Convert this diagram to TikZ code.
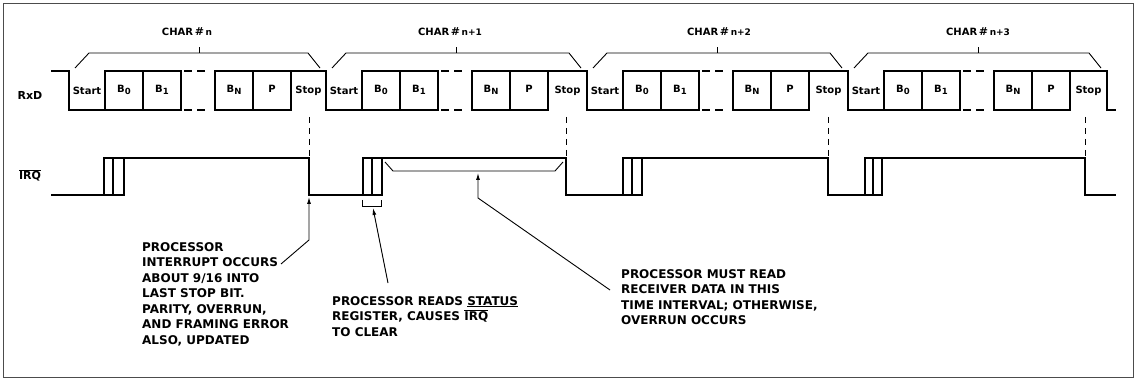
\documentclass[tikz,border=0pt]{standalone}
\usepackage{fontspec}
\setmainfont{DejaVu Sans}
\usetikzlibrary{arrows.meta}
\begin{document}
\begin{tikzpicture}[x=1pt,y=-1pt,
  wave/.style={line width=1.8pt, line cap=rect, line join=miter},
  bracestyle/.style={line width=0.9pt, line join=miter},
  guide/.style={line width=1pt, dash pattern=on 6pt off 5pt},
  arr/.style={line width=0.9pt, -{Latex[length=7pt,width=4pt]}},
  bitlbl/.style={font=\bfseries\fontsize{10}{10}\selectfont, inner sep=0pt},
  charlbl/.style={font=\bfseries\fontsize{10}{10}\selectfont, inner sep=0pt},
  siglbl/.style={font=\bfseries\fontsize{11}{11}\selectfont, inner sep=0pt},
  note/.style={font=\bfseries\fontsize{12}{15.5}\selectfont, align=left, inner sep=0pt, anchor=north west}]
\useasboundingbox (0,0) rectangle (1137,382);
\fill[white] (0,0) rectangle (1137,382);
\draw[gray!60!black, line width=0.8pt] (3,3) rectangle (1133,377);

% signal labels
\node[siglbl] (rxd) at (30,95) {RxD};
\node[siglbl] (irq) at (30,175) {$\overline{\hbox{IRQ}}$};

% RxD lead-in and tail
\draw[wave] (52,71) -- (69,71);
\draw[wave] (1107,71) -- (1107,110) -- (1115,110);

\foreach \s/\e/\cx/\lab [count=\i] in {69/326/187/n, 326/587/450/n+1, 587/848/719/n+2, 848/1107/978/n+3}{
  % start bit
  \draw[wave] (\s,71) -- (\s,110) -- ({\s+36},110);
  % data boxes
  \draw[wave] ({\s+36},71) rectangle ({\s+74},110);
  \draw[wave] ({\s+74},71) rectangle ({\s+112},110);
  \draw[wave] ({\s+146},71) rectangle ({\s+184},110);
  \draw[wave] ({\s+184},71) rectangle ({\s+222},110);
  % stop bit
  \draw[wave] ({\s+222},71) -- (\e,71);
  % ellipsis dashes
  \draw[wave] ({\s+116},71) -- ({\s+122},71) ({\s+129},71) -- ({\s+135},71);
  \draw[wave] ({\s+116},110) -- ({\s+122},110) ({\s+129},110) -- ({\s+135},110);
  % labels
  \node[bitlbl] (start\i) at ({\s+18},91) {Start};
  \node[bitlbl] (b0\i) at ({\s+55},90) {B\raisebox{-2.5pt}{\fontsize{8.5}{8.5}\selectfont 0}};
  \node[bitlbl] (b1\i) at ({\s+93},90) {B\raisebox{-2.5pt}{\fontsize{8.5}{8.5}\selectfont 1}};
  \node[bitlbl] (bn\i) at ({\s+165},90) {B\raisebox{-2.5pt}{\fontsize{8.5}{8.5}\selectfont N}};
  \node[bitlbl] (p\i) at ({\s+203},89) {P};
  \node[bitlbl] (stop\i) at ({(\s+222+\e)/2},91) {Stop};
  % brace
  \draw[bracestyle] ({\s+6},68) -- ({\s+20},53) -- ({\e-18},53) -- ({\e-6},68);
  \draw[bracestyle] ({\s+130},53) -- ({\s+130},47);
  \node[charlbl] (char\i) at (\cx,32) {CHAR\,{\fontsize{11}{11}\selectfont\#}\,{\fontsize{9}{9}\selectfont\lab}};
}

% guide lines from stop bit to IRQ
\foreach \x in {309,566,828,1085}{
  \draw[guide] (\x,117) -- (\x,157);
}

% IRQ waveform
\draw[wave] (52,195) -- (124,195);
\draw[wave] (104,195) -- (104,158) -- (309,158) -- (309,195) -- (382,195);
\draw[wave] (363,195) -- (363,158) -- (566,158) -- (566,195) -- (642,195);
\draw[wave] (623,195) -- (623,158) -- (828,158) -- (828,195) -- (882,195);
\draw[wave] (865,195) -- (865,158) -- (1085,158) -- (1085,195) -- (1115,195);
\foreach \x in {113,124,372,382,632,642,873,882}{
  \draw[wave] (\x,195) -- (\x,158);
}

% small bracket under IRQ clear region
\draw[bracestyle] (362,200) -- (362,206) -- (381,206) -- (381,200);
% long bracket for read interval
\draw[bracestyle] (385,162) -- (393,171) -- (555,171) -- (563,162);

% notes
\node[note] (t1) at (142,242) {PROCESSOR\\INTERRUPT OCCURS\\ABOUT 9/16 INTO\\LAST STOP BIT.\\PARITY, OVERRUN,\\AND FRAMING ERROR\\ALSO, UPDATED};
\node[note] (t2) at (332,296) {PROCESSOR READS \underline{STATUS}\\REGISTER, CAUSES $\overline{\hbox{IRQ}}$\\TO CLEAR};
\node[note] (t3) at (621,269) {PROCESSOR MUST READ\\RECEIVER DATA IN THIS\\TIME INTERVAL; OTHERWISE,\\OVERRUN OCCURS};

% arrows
\coordinate (a1s) at (281,264);
\coordinate (a1k) at (309,240);
\coordinate (a1e) at (309,197);
\draw[arr] (a1s) -- (a1k) -- (a1e);
\coordinate (a2s) at (388,283);
\coordinate (a2e) at (373,208);
\draw[arr] (a2s) -- (a2e);
\coordinate (a3s) at (610,290);
\coordinate (a3k) at (478,198);
\coordinate (a3e) at (478,173);
\draw[arr] (a3s) -- (a3k) -- (a3e);
\end{tikzpicture}
\end{document}
